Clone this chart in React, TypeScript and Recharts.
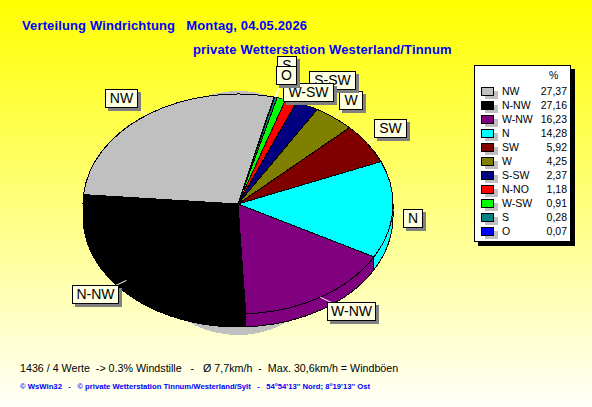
import React from "react";
import { PieChart, Pie, Legend } from "recharts";

const directions = ["NW", "N-NW", "W-NW", "N", "SW", "W", "S-SW", "N-NO", "W-SW", "S", "O"];
const percents = [27.37, 27.16, 16.23, 14.28, 5.92, 4.25, 2.37, 1.18, 0.91, 0.28, 0.07];
const colors = ["#C0C0C0", "#000000", "#800080", "#00FFFF", "#800000", "#808000", "#000080", "#FF0000", "#00FF00", "#008080", "#0000FF"];

const data = directions.map((name, i) => ({ name, value: percents[i], fill: colors[i] }));

const RX = 155;
const RY = 110;
const DEPTH = 13;
const START = 76.6;

// callout boxes: left, top, width
const callouts: Record<string, [number, number, number]> = {
  NW: [105, 89, 33],
  "N-NW": [72, 285, 47],
  "W-NW": [327, 302, 49],
  N: [403, 209, 20],
  SW: [374, 119, 33],
  W: [339, 91, 24],
  "S-SW": [309, 71, 47],
  "W-SW": [283, 83, 51],
  S: [277, 56, 20],
  O: [276, 66, 21],
};
const calloutOrder = ["NW", "N-NW", "W-NW", "N", "SW", "W", "S-SW", "W-SW", "S", "O"];

const pt = (cx: number, cy: number, a: number) => {
  const r = (a * Math.PI) / 180;
  return [cx + RX * Math.cos(r), cy - RY * Math.sin(r)];
};

const TopSlice = (p: any) => {
  const [x1, y1] = pt(p.cx, p.cy, p.startAngle);
  const [x2, y2] = pt(p.cx, p.cy, p.endAngle);
  const large = p.endAngle - p.startAngle > 180 ? 1 : 0;
  return (
    <path
      d={`M${p.cx},${p.cy}L${x1},${y1}A${RX},${RY} 0 ${large} 0 ${x2},${y2}Z`}
      fill={p.fill}
      stroke="#000"
      strokeWidth={1}
      shapeRendering="crispEdges"
    />
  );
};

// side wall, only the front half of the ellipse shows it
const RimSlice = (p: any) => {
  const s = Math.max(p.startAngle, 180);
  const e = Math.min(p.endAngle, 360);
  if (e <= s) return <g />;
  const [x1, y1] = pt(p.cx, p.cy, s);
  const [x2, y2] = pt(p.cx, p.cy, e);
  return (
    <path
      d={`M${x1},${y1}A${RX},${RY} 0 0 0 ${x2},${y2}L${x2},${y2 + DEPTH}A${RX},${RY} 0 0 1 ${x1},${y1 + DEPTH}Z`}
      fill={p.fill}
      stroke="#000"
      strokeWidth={1}
      shapeRendering="crispEdges"
    />
  );
};

const BackDisc = (p: any) => (
  <ellipse cx={p.cx} cy={p.cy + 9} rx={RX - 45} ry={RY + 12} fill="#C0C0C0" shapeRendering="crispEdges" />
);

const font = "Liberation Sans";

const LegendBox = (props: any) => {
  // both pies report their slices, keep each direction once and in data order
  const names = (props.payload || []).map((r: any) => r.value);
  const rows = directions.filter((d) => names.includes(d));
  return (
    <div
      style={{
        width: 97,
        height: 177,
        background: "#fff",
        border: "1px solid #000",
        boxShadow: "4px 4px 0 #000",
        boxSizing: "border-box",
        position: "relative",
        fontFamily: font,
        fontSize: 10.5,
        color: "#000",
      }}
    >
      <div style={{ position: "absolute", left: 74, top: 3 }}>%</div>
      {rows.map((name, i) => {
        const idx = directions.indexOf(name);
        return (
          <div key={name} style={{ position: "absolute", top: 18 + i * 14, left: 0, width: 95, height: 14, lineHeight: "14px" }}>
            <div style={{ position: "absolute", left: 10, top: 7, width: 13, height: 8, background: "#C0C0C0" }} />
            <div style={{ position: "absolute", left: 6, top: 3, width: 13, height: 9, boxSizing: "border-box", background: colors[idx], border: "1px solid #000" }} />
            <span style={{ position: "absolute", left: 27 }}>{name}</span>
            <span style={{ position: "absolute", right: 3 }}>{percents[idx].toFixed(2).replace(".", ",")}</span>
          </div>
        );
      })}
    </div>
  );
};

export default function App() {
  return (
    <div
      style={{
        position: "absolute",
        left: 0,
        top: 0,
        width: 592,
        height: 407,
        overflow: "hidden",
        background: "linear-gradient(#FFFF00, #FFFFFA)",
      }}
    >
      <PieChart width={592} height={407} margin={{ top: 0, right: 0, bottom: 0, left: 0 }} style={{ position: "absolute", left: 0, top: 0 }}>
        <Pie data={[{ name: "back", value: 100 }]} dataKey="value" cx={238} cy={204} outerRadius={RX} legendType="none" shape={BackDisc} stroke="none" isAnimationActive={false} />
        <Pie data={data} dataKey="value" nameKey="name" cx={238} cy={204} outerRadius={RX} startAngle={START} endAngle={START + 360} legendType="none" shape={RimSlice} isAnimationActive={false} />
        <Pie
          data={data}
          dataKey="value"
          nameKey="name"
          cx={238}
          cy={204}
          outerRadius={RX}
          startAngle={START}
          endAngle={START + 360}
          shape={TopSlice}
          label={(p: any) => {
            const box = callouts[p.name];
            if (!box) return <g />;
            const [left, top, w] = box;
            const [ax, ay] = pt(238, 204, p.midAngle);
            return <line x1={ax} y1={ay} x2={left + w / 2} y2={top + 10} stroke="#fff" strokeWidth={1} />;
          }}
          labelLine={false}
          isAnimationActive={false}
        />
        <Legend content={LegendBox} itemSorter={null} layout="vertical" wrapperStyle={{ position: "absolute", left: 474, top: 65, width: 97 }} />
      </PieChart>

      {calloutOrder.map((name) => {
        const [left, top, w] = callouts[name];
        return (
          <div
            key={name}
            style={{
              position: "absolute",
              left,
              top,
              width: w,
              height: 19,
              boxSizing: "border-box",
              background: "#FFFFE1",
              border: "1px solid #000",
              boxShadow: "3px 3px 0 #808080",
              fontFamily: font,
              fontSize: 14,
              lineHeight: "17px",
              textAlign: "center",
              color: "#000",
            }}
          >
            {name}
          </div>
        );
      })}

      <div style={{ position: "absolute", left: 22, top: 18, fontFamily: font, fontSize: 13, letterSpacing: 0.13, fontWeight: "bold", color: "#0000FF", whiteSpace: "pre" }}>
        {"Verteilung Windrichtung   Montag, 04.05.2026"}
      </div>
      <div style={{ position: "absolute", left: 193, top: 42, fontFamily: font, fontSize: 13, letterSpacing: 0.15, fontWeight: "bold", color: "#0000FF", whiteSpace: "pre" }}>
        private Wetterstation Westerland/Tinnum
      </div>
      <div style={{ position: "absolute", left: 20, top: 362, fontFamily: font, fontSize: 10.7, color: "#000", whiteSpace: "pre" }}>
        {"1436 / 4 Werte  -> 0.3% Windstille   -   Ø 7,7km/h  -  Max. 30,6km/h = Windböen"}
      </div>
      <div style={{ position: "absolute", left: 20, top: 382, fontFamily: font, fontSize: 7.7, fontWeight: "bold", color: "#0000FF", whiteSpace: "pre" }}>
        {"© WsWin32   -   © private Wetterstation Tinnum/Westerland/Sylt   -   54°54'13'' Nord; 8°19'13'' Ost"}
      </div>
    </div>
  );
}
